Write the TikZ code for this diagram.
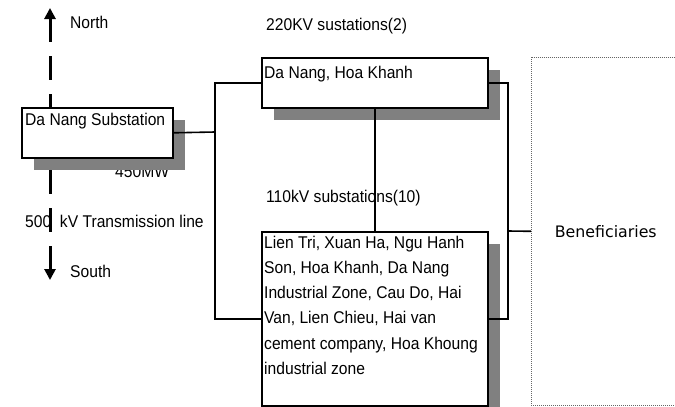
\documentclass[tikz,border=0pt]{standalone}
\usepackage{fontspec}
\setmainfont{Liberation Sans}[FakeStretch=0.92]
\newfontfamily\benfont{DejaVu Sans}
\usetikzlibrary{arrows.meta, positioning, shadows}

\begin{document}
\begin{tikzpicture}[
    x=1pt, y=-1pt,
    font=\fontsize{17}{25.3}\selectfont,
    box/.style={rectangle, draw, line width=1.6pt, fill=white, anchor=north west, inner sep=0pt},
    shbox/.style={box, drop shadow={shadow xshift=12.5pt, shadow yshift=-12.5pt, fill=black!50, opacity=1}},
    lbl/.style={anchor=base west, inner sep=0pt},
    wire/.style={line width=1.6pt},
    dirline/.style={line width=3pt, dash pattern=on 24pt off 14pt, {Triangle[length=11pt, width=11pt]}-{Triangle[length=11pt, width=11pt]}}
]
    \clip (0,0) rectangle (675,407);
    \coordinate (ntip) at (50,8);
    \coordinate (stip) at (50,280);
    \draw[dirline] (ntip) -- (stip);
    \node[lbl] (north) at (70,28) {North};
    \node[lbl] (south) at (70,277) {South};
    \node[lbl] (tline) at (25,227) {500\ \ kV Transmission line};
    \node[lbl] (mw) at (115,177) {450MW};
    \node[shbox, minimum width=151pt, minimum height=50pt] (sub) at (21,107) {};
    \node[lbl] (subtxt) at (25,125) {Da Nang Substation};
    \node[lbl] (hv) at (266,30) {220KV sustations(2)};
    \node[lbl] (mv) at (266,202) {110kV substations(10)};
    \node[shbox, minimum width=226pt, minimum height=50pt] (top) at (261,57) {};
    \node[lbl] (toptxt) at (264,78) {Da Nang, Hoa Khanh};
    \node[shbox, minimum width=226pt, minimum height=174pt] (bot) at (261,231) {};
    \node[anchor=north west, inner sep=0pt, align=left] (bottxt) at (264,235.5)
        {Lien Tri, Xuan Ha, Ngu Hanh\\Son, Hoa Khanh, Da Nang\\Industrial Zone, Cau Do, Hai\\Van, Lien Chieu, Hai van\\cement company, Hoa Khoung\\industrial zone};
    \node[box, draw=black!60, line width=0.6pt, dash pattern=on 1pt off 1pt, minimum width=149pt, minimum height=348pt, font=\benfont\fontsize{15.8}{19}\selectfont] (ben) at (531,57) {Beneficiaries};
    \coordinate (jl) at (215,132);
    \coordinate (jr) at (508,231);
    \draw[wire] (sub.east) -- (jl);
    \draw[wire] (top.west) -| (jl) |- (bot.west);
    \draw[wire] (top.east) -| (jr) |- (bot.east);
    \draw[wire] (jr) -- (ben.west);
    \draw[wire] (top.south) -- (bot.north);
\end{tikzpicture}
\end{document}
